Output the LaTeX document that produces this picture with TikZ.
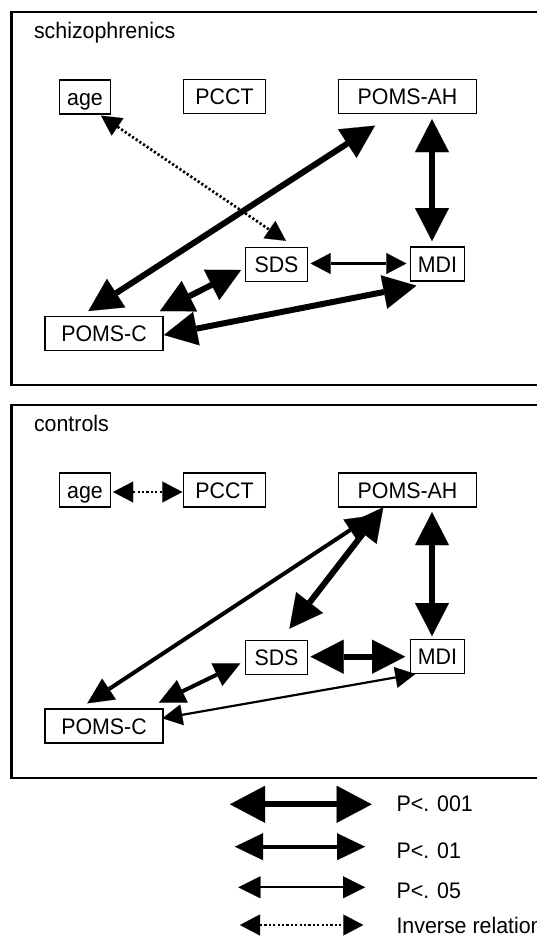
\documentclass[tikz,border=0pt]{standalone}
\usepackage{fontspec}
\setmainfont{Liberation Sans}[FakeStretch=0.95]
\usetikzlibrary{arrows.meta}
\begin{document}
\begin{tikzpicture}[x=1pt,y=-1pt,
  every node/.style={font=\fontsize{22.5}{27}\selectfont},
  box/.style={draw,line width=1.3pt,inner sep=0pt,minimum height=34pt,
    text height=16pt,text depth=0pt},
  panel/.style={line width=2.2pt},
  p001/.style={line width=6pt,<->,>={Triangle[length=33pt,width=34pt,line width=0.1pt]}},
  p01/.style={line width=4pt,<->,>={Triangle[length=26pt,width=25pt,line width=0.1pt]}},
  p05/.style={line width=2.2pt,<->,>={Triangle[length=20pt,width=21pt,line width=0.1pt]}},
  inv/.style={line width=2.7pt,dash pattern=on 2.2pt off 2.2pt,<->,
    >={Triangle[length=20pt,width=21pt,line width=0.1pt]}}]
\useasboundingbox (0,0) rectangle (537,938);

% panel frames
\draw[panel] (11.5,12) rectangle (600,385);
\draw[panel] (11.5,405) rectangle (600,778);

% ---- schizophrenics ----
\node[anchor=base west] (ttla) at (30.5,38.8) {schizophrenics};
\node[box,minimum width=51pt]  (aage)  at (85,97)       {age};
\node[box,minimum width=82pt]  (apcct) at (224.5,96.5)  {PCCT};
\node[box,minimum width=138pt] (aah)   at (407.5,96.5)  {POMS-AH};
\node[box,minimum width=62pt]  (asds)  at (276.5,264.5) {SDS};
\node[box,minimum width=54pt]  (amdi)  at (437.5,264)   {MDI};
\node[box,minimum width=118pt] (apc)   at (104,333.5)   {POMS-C};

\draw[inv]  ([shift={(16,1)}]aage.south) -- ([shift={(9.5,-6)}]asds.north);
\draw[p001] ([shift={(-15.6,-4.8)}]apc.north) -- ([shift={(-32.5,11.5)}]aah.south);
\draw[p001] ([shift={(24.5,5)}]aah.south) -- ([shift={(-5.5,-5.3)}]amdi.north);
\draw[p05]  ([shift={(2.5,-1)}]asds.east) -- ([shift={(-3.5,-0.5)}]amdi.west);
\draw[p001] ([shift={(-3.8,5.5)}]asds.west) -- ([shift={(-3.7,-4.8)}]apc.north east);
\draw[p001] ([shift={(0.3,1.5)}]apc.east) -- ([shift={(6.5,4)}]amdi.south west);

% ---- controls ----
\node[anchor=base west] (ttlb) at (30.5,431.8) {controls};
\node[box,minimum width=51pt]  (bage)  at (85,490)      {age};
\node[box,minimum width=82pt]  (bpcct) at (224.5,490)   {PCCT};
\node[box,minimum width=138pt] (bah)   at (407.5,490)   {POMS-AH};
\node[box,minimum width=62pt]  (bsds)  at (276.5,657.5) {SDS};
\node[box,minimum width=54pt]  (bmdi)  at (437.5,656.5) {MDI};
\node[box,minimum width=118pt] (bpc)   at (104,726)     {POMS-C};

\draw[inv]  ([shift={(2,2)}]bage.east) -- ([shift={(-0.5,2)}]bpcct.west);
\draw[p01]  ([shift={(-16.7,-5)}]bpc.north) -- ([shift={(-35.5,8)}]bah.south);
\draw[p001] ([shift={(12.9,-11.2)}]bsds.north) -- ([shift={(-24.2,-0.3)}]bah.south);
\draw[p001] ([shift={(24.5,4.5)}]bah.south) -- ([shift={(-5.5,-2.8)}]bmdi.north);
\draw[p001] ([shift={(2.4,-0.8)}]bsds.east) -- ([shift={(-4.7,0.2)}]bmdi.west);
\draw[p01]  ([shift={(-4.5,5.8)}]bsds.west) -- ([shift={(-4.7,-5.7)}]bpc.north east);
\draw[p05]  ([shift={(-1.3,-7.7)}]bpc.east) -- ([shift={(5.5,-0.2)}]bmdi.south west);

% ---- legend ----
\coordinate (l1a) at (230,804.3);   \coordinate (l1b) at (371.7,804.3);
\coordinate (l2a) at (235,846.7);   \coordinate (l2b) at (365,846.7);
\coordinate (l3a) at (238.3,887.3); \coordinate (l3b) at (365,887.3);
\coordinate (l4a) at (240,925);     \coordinate (l4b) at (363.3,925);
\draw[p001,>={Triangle[length=35pt,width=37pt,line width=0.1pt]}] (l1a) -- (l1b);
\draw[p01,>={Triangle[length=28pt,width=27pt,line width=0.1pt]}]  (l2a) -- (l2b);
\draw[p05,>={Triangle[length=22pt,width=22pt,line width=0.1pt]}]  (l3a) -- (l3b);
\draw[inv] (l4a) -- (l4b);
\node[anchor=base west] (t1) at (393,811.7) {P<. 001};
\node[anchor=base west] (t2) at (393,858.3) {P<. 01};
\node[anchor=base west] (t3) at (393,898.3) {P<. 05};
\node[anchor=base west] (t4) at (393,933.3) {Inverse relation};
\end{tikzpicture}
\end{document}
